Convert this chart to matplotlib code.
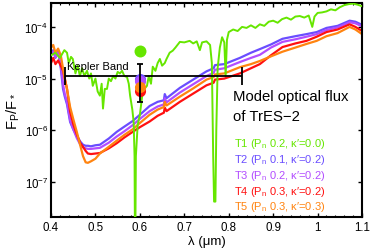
import matplotlib
matplotlib.use("Agg")
import matplotlib.pyplot as plt
import numpy as np
from matplotlib.ticker import FixedLocator, MultipleLocator, NullLocator

plt.rcParams['font.family'] = ['Liberation Sans', 'DejaVu Sans']
plt.rcParams['mathtext.fontset'] = 'custom'
plt.rcParams['mathtext.rm'] = 'Liberation Sans'
plt.rcParams['mathtext.it'] = 'Liberation Sans:italic'
plt.rcParams['mathtext.bf'] = 'Liberation Sans:bold'

# T1 (green) model spectrum, log10(Fp/F*)
wl_t1 = [0.400, 0.410, 0.420, 0.430, 0.436, 0.440, 0.445, 0.449, 0.455, 0.460,
         0.465, 0.470, 0.475, 0.481, 0.486, 0.490, 0.494, 0.500, 0.505, 0.510,
         0.514, 0.517, 0.521, 0.526, 0.530, 0.535, 0.540, 0.545, 0.550, 0.555,
         0.560, 0.565, 0.571, 0.575, 0.578, 0.583, 0.586, 0.588, 0.5890, 0.5896,
         0.591, 0.595, 0.600, 0.605, 0.610, 0.616, 0.620, 0.625, 0.629, 0.635,
         0.640, 0.645, 0.650, 0.656, 0.660, 0.667, 0.674, 0.680, 0.690, 0.700,
         0.712, 0.720, 0.728, 0.735, 0.740, 0.750, 0.758, 0.762, 0.765, 0.767,
         0.770, 0.772, 0.775, 0.780, 0.785, 0.790, 0.793, 0.796, 0.800, 0.810,
         0.820, 0.830, 0.840, 0.850, 0.860, 0.870, 0.880, 0.890, 0.900, 0.910,
         0.920, 0.930, 0.940, 0.950, 0.960, 0.970, 0.980, 0.988, 0.993, 1.000,
         1.010, 1.020, 1.030, 1.040, 1.050, 1.060, 1.070, 1.080, 1.090, 1.100]
lf_t1 = [-4.55, -4.50, -4.60, -4.45, -4.50, -4.70, -4.58, -4.62, -4.90, -4.75,
         -4.95, -4.80, -4.95, -4.85, -5.00, -4.90, -5.14, -5.00, -5.25, -5.33,
         -5.10, -5.58, -5.20, -5.20, -5.00, -5.05, -4.95, -5.00, -4.87, -4.90,
         -4.85, -4.95, -4.97, -5.10, -5.33, -5.60, -5.84, -6.50, -8.30, -8.30,
         -6.50, -5.90, -5.70, -5.35, -5.20, -5.14, -4.95, -5.10, -4.77, -4.85,
         -4.70, -4.62, -4.75, -4.70, -4.62, -4.50, -4.46, -4.40, -4.29, -4.30,
         -4.27, -4.32, -4.28, -4.45, -4.30, -4.28, -4.35, -4.70, -6.50, -7.38,
         -7.38, -6.00, -4.80, -4.40, -4.20, -4.30, -4.95, -4.25, -4.10, -4.05,
         -4.08, -4.00, -4.02, -3.97, -4.02, -3.95, -3.98, -3.90, -3.88, -3.92,
         -3.85, -3.82, -3.86, -3.80, -3.79, -3.82, -3.78, -4.00, -3.80, -3.73,
         -3.72, -3.70, -3.66, -3.68, -3.62, -3.58, -3.56, -3.55, -3.57, -3.60]

# T2..T5 share one wavelength grid
wl_cool = [0.400, 0.405, 0.410, 0.416, 0.422, 0.427, 0.431, 0.436, 0.443, 0.450,
           0.458, 0.466, 0.472, 0.478, 0.483, 0.490, 0.500, 0.510, 0.530, 0.548,
           0.565, 0.584, 0.600, 0.622, 0.640, 0.654, 0.656, 0.660, 0.690, 0.720,
           0.750, 0.766, 0.769, 0.790, 0.825, 0.850, 0.870, 0.895, 0.921, 0.950,
           0.975, 0.998, 1.020, 1.045, 1.072, 1.085, 1.100]
lf_t2 = [-4.55, -4.45, -4.60, -4.48, -4.80, -5.20, -5.35, -5.50, -5.84, -5.98,
         -6.11, -6.22, -6.28, -6.30, -6.30, -6.31, -6.29, -6.28, -6.16, -6.03,
         -5.93, -5.82, -5.70, -5.53, -5.45, -5.42, -5.30, -5.38, -5.18, -5.02,
         -4.86, -4.80, -4.74, -4.72, -4.60, -4.50, -4.43, -4.34, -4.23, -4.18,
         -4.14, -4.10, -4.02, -3.98, -3.88, -3.90, -3.96]
lf_t3 = [-4.50, -4.48, -4.58, -4.50, -4.75, -5.10, -5.30, -5.45, -5.80, -5.98,
         -6.15, -6.28, -6.33, -6.35, -6.36, -6.36, -6.35, -6.34, -6.24, -6.12,
         -6.02, -5.90, -5.78, -5.63, -5.54, -5.50, -5.38, -5.46, -5.27, -5.11,
         -4.95, -4.89, -4.83, -4.80, -4.68, -4.60, -4.54, -4.40, -4.29, -4.24,
         -4.19, -4.14, -4.06, -4.01, -3.91, -3.93, -3.99]
lf_t4 = [-4.70, -4.60, -4.72, -4.65, -4.75, -4.85, -5.00, -5.20, -5.64, -5.88,
         -6.08, -6.25, -6.32, -6.40, -6.45, -6.46, -6.45, -6.44, -6.35, -6.25,
         -6.14, -6.03, -5.94, -5.83, -5.72, -5.66, -5.56, -5.63, -5.45, -5.29,
         -5.13, -5.08, -5.02, -5.00, -4.90, -4.80, -4.72, -4.55, -4.39, -4.32,
         -4.27, -4.19, -4.10, -4.05, -3.95, -4.00, -4.08]
lf_t5 = [-4.40, -4.35, -4.50, -4.42, -4.55, -4.80, -5.00, -5.20, -5.55, -5.78,
         -6.03, -6.30, -6.50, -6.62, -6.63, -6.60, -6.55, -6.45, -6.32, -6.20,
         -6.09, -5.98, -5.86, -5.70, -5.60, -5.55, -5.45, -5.52, -5.35, -5.19,
         -5.02, -4.97, -4.92, -4.90, -4.78, -4.72, -4.66, -4.57, -4.48, -4.40,
         -4.33, -4.27, -4.18, -4.12, -4.00, -4.05, -4.14]

# Kepler-band fluxes for each model (log10) and the observed point
band_lf = [-4.46, -5.00, -5.05, -5.24, -5.16]
obs_wl = 0.6
obs_lf = -5.08
obs_lo = -5.45
obs_hi = -4.72
band_lo, band_hi = 0.431, 0.829
band_level = -4.95

xticks = [0.4, 0.5, 0.6, 0.7, 0.8, 0.9, 1.0, 1.1]
xticklabels = ['0.4', '0.5', '0.6', '0.7', '0.8', '0.9', '1', '1.1']

labels = [r"T1 (P$_\mathregular{n}$ 0.2, κ′=0.0)",
          r"T2 (P$_\mathregular{n}$ 0.1, κ′=0.2)",
          r"T3 (P$_\mathregular{n}$ 0.2, κ′=0.2)",
          r"T4 (P$_\mathregular{n}$ 0.3, κ′=0.2)",
          r"T5 (P$_\mathregular{n}$ 0.3, κ′=0.3)"]
colors = ['#66e600', '#6a4dff', '#b24dff', '#ff1010', '#ff8410']

fig = plt.figure(figsize=(3.74, 2.51), dpi=100)
ax = fig.add_axes([0.1364, 0.1315, 0.8316, 0.8526])

cool = [lf_t2, lf_t3, lf_t4, lf_t5]
for i in range(4):
    ax.plot(wl_cool, 10 ** np.array(cool[i]), color=colors[i + 1], lw=1.6, zorder=2)
ax.plot(wl_t1, 10 ** np.array(lf_t1), color=colors[0], lw=1.4, zorder=3)

# Kepler band bar
bc = (band_lo + band_hi) / 2
ax.errorbar(bc, 10 ** band_level, xerr=(band_hi - band_lo) / 2, color='k',
            lw=1.3, capsize=6.5, capthick=1.3, zorder=4)
ax.text(0.435, 10 ** -4.86, "Kepler Band", fontsize=8, va='bottom', ha='left')

# band-integrated model points
ax.plot(obs_wl, 10 ** band_lf[0], 'o', color=colors[0], ms=8.6, mec='none', zorder=5)
for k in [1, 2, 3, 4]:
    ax.plot(obs_wl, 10 ** band_lf[k], 'o', color=colors[k], ms=8, mec='none', zorder=5)
yv = 10 ** obs_lf
ax.errorbar(obs_wl, yv, yerr=[[yv - 10 ** obs_lo], [10 ** obs_hi - yv]], color='k',
            lw=1.3, capsize=2.3, capthick=1.3, zorder=6)

ax.text(0.585, 0.547, "Model optical flux", transform=ax.transAxes, fontsize=10.7, va='baseline')
ax.text(0.585, 0.453, "of TrES\u22122", transform=ax.transAxes, fontsize=10.7, va='baseline')

ybase = [0.330, 0.256, 0.181, 0.109, 0.036]
for i in range(5):
    ax.text(0.588, ybase[i], labels[i], transform=ax.transAxes, fontsize=8,
            color=colors[i], va='baseline')

ax.set_yscale('log')
ax.set_xlim(0.4, 1.1)
ax.set_ylim(2.1e-8, 2.9e-4)
ax.xaxis.set_major_locator(FixedLocator(xticks))
ax.set_xticklabels(xticklabels)
ax.xaxis.set_minor_locator(MultipleLocator(0.02))
ax.yaxis.set_major_locator(FixedLocator([1e-7, 1e-6, 1e-5, 1e-4]))
ax.yaxis.set_minor_locator(NullLocator())
ax.tick_params(which='both', direction='in', top=True, right=True, labelsize=8.3)
ax.tick_params(which='major', length=3, width=1, pad=3)
ax.tick_params(axis='y', pad=2)
ax.tick_params(which='minor', length=1.5, width=0.8)
for s in ax.spines.values():
    s.set_linewidth(1.5)

ax.set_xlabel("λ (μm)", fontsize=9.5, labelpad=1)
ax.set_ylabel(r"F$_\mathregular{P}$/F$_*$", fontsize=10.5, labelpad=2)

fig.savefig("out.png", dpi=100)
